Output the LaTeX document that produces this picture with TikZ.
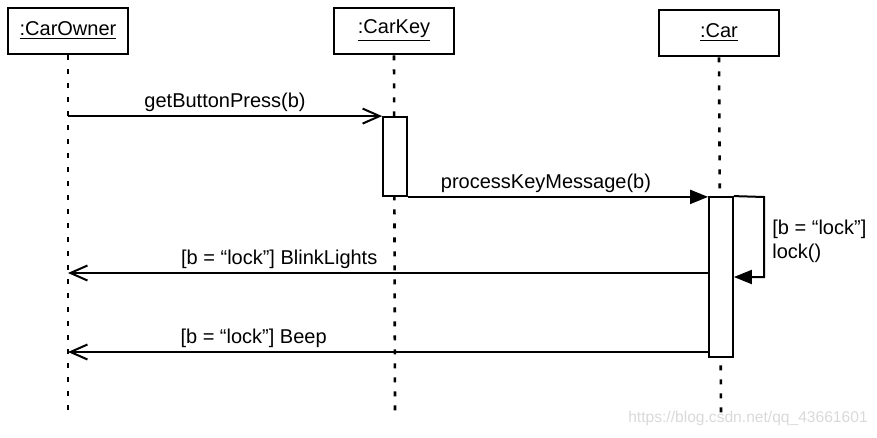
\documentclass[tikz,border=0pt]{standalone}
\usepackage{fontspec}
\setmainfont{Liberation Sans}
\usetikzlibrary{arrows.meta}
\tikzset{
  object/.style={draw,line width=1.4pt,minimum width=60pt,minimum height=23pt,inner sep=0pt},
  lifeline/.style={line width=1.3pt,dash pattern=on 2.5pt off 4.5pt},
  activation/.style={draw,fill=white,line width=0.9pt,minimum width=12pt,inner sep=0pt},
  call/.style={line width=1pt,-{Straight Barb[length=8.5pt,width=7.5pt,line width=1pt]}},
  sync/.style={line width=1pt,-{Triangle[length=9pt,width=7pt]}},
  msg/.style={above,inner sep=1.5pt}
}
\begin{document}
\begin{tikzpicture}[x=0.5pt,y=-0.5pt,font=\fontsize{10}{12}\selectfont]
  \useasboundingbox (0,0) rectangle (877,438);
  % nodes
	\node [object] (owner) at (68, 31) {\underline{:CarOwner}};
	\node [object] (key) at (394, 31) {\underline{:CarKey}};
	\node [object] (car) at (719, 33) {\underline{:Car}};
	\coordinate (ownerEnd) at (68, 412);
	\coordinate (keyEnd) at (395, 412);
	\coordinate (carEnd) at (721, 415);
	% lifelines
	\draw [lifeline] (owner.south) to (ownerEnd);
	\draw [lifeline] (key.south) to (keyEnd);
	\draw [lifeline] (car.south) to (carEnd);
	%% activations
	\node [activation,minimum height=39.5pt] (keyAct) at (395, 156.5) {};
	\node [activation,minimum height=80pt] (carAct) at (721, 277) {};
	%% self call
	\coordinate (selfTop) at (764, 197);
	\coordinate (selfBot) at (764, 277);
	\coordinate (blink) at (68, 273);
	\coordinate (beep) at (68, 352);
	% edges
	\draw [call] (ownerEnd |- keyAct.north west) to node [msg] {getButtonPress(b)} (keyAct.north west);
	\draw [sync] (keyAct.south east) to node [msg,pos=0.46] {processKeyMessage(b)} (carAct.north west |- keyAct.south east);
	\draw [sync] (carAct.north east) -- (selfTop) -- (selfBot) -- (carAct.east |- selfBot);
	\node [anchor=west,align=left,inner sep=0pt] (guard) at (772, 241) {[b = “lock”]\\lock()};
	\draw [call] (carAct.west |- blink) to node [msg,pos=0.67] {[b = “lock”] BlinkLights} (blink);
	\draw [call] (carAct.west |- beep) to node [msg,pos=0.71] {[b = “lock”] Beep} (beep);
	% watermark
	\node [gray!30,font=\fontsize{7.8}{9}\selectfont] (mark) at (748, 418) {https://blog.csdn.net/qq\_43661601};
\end{tikzpicture}
\end{document}
